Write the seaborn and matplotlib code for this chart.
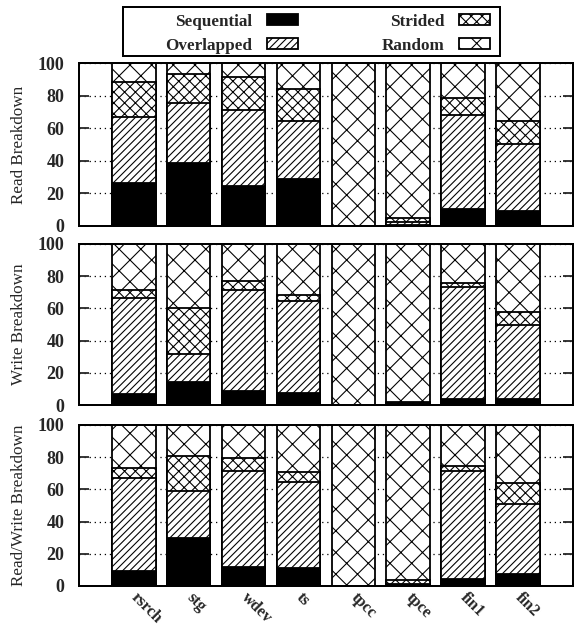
import numpy as np
import matplotlib
matplotlib.use('Agg')
import matplotlib.pyplot as plt
import seaborn as sns
from matplotlib.patches import Patch, Rectangle

sns.set_style('white')
plt.rcParams['font.family'] = ['Liberation Serif', 'DejaVu Serif']
plt.rcParams['hatch.linewidth'] = 0.6

# workloads and breakdowns (percent)
workloads = ['rsrch', 'stg', 'wdev', 'ts', 'tpcc', 'tpce', 'fin1', 'fin2']
categories = ['Sequential', 'Overlapped', 'Strided', 'Random']

read_seq = [26.6, 38.8, 24.5, 28.9, 0.0, 0.5, 10.2, 9.0]
read_ovl = [40.2, 36.7, 46.6, 35.8, 0.0, 1.5, 58.2, 41.4]
read_str = [22.0, 18.0, 20.7, 19.5, 0.0, 3.0, 10.0, 14.3]
read_rnd = [11.2, 6.5, 8.2, 15.8, 100.0, 95.0, 21.6, 35.3]

write_seq = [7.0, 14.6, 8.5, 7.2, 0.0, 0.5, 3.5, 3.9]
write_ovl = [59.6, 16.9, 62.6, 57.3, 0.0, 0.5, 70.0, 46.0]
write_str = [4.5, 28.5, 5.6, 3.5, 0.0, 1.0, 2.5, 8.0]
write_rnd = [28.9, 40.0, 23.3, 32.0, 100.0, 98.0, 24.0, 42.1]

rw_seq = [9.0, 30.0, 11.8, 11.1, 0.0, 0.5, 4.3, 7.4]
rw_ovl = [58.0, 29.2, 59.4, 53.5, 0.0, 1.0, 66.9, 43.6]
rw_str = [6.3, 21.5, 8.5, 6.2, 0.0, 2.5, 3.3, 13.2]
rw_rnd = [26.7, 19.3, 20.3, 29.2, 100.0, 96.0, 25.5, 35.8]

panels = [
    ('Read Breakdown', [read_seq, read_ovl, read_str, read_rnd]),
    ('Write Breakdown', [write_seq, write_ovl, write_str, write_rnd]),
    ('Read/Write Breakdown', [rw_seq, rw_ovl, rw_str, rw_rnd]),
]

styles = {
    'Sequential': dict(color='black', hatch=None),
    'Overlapped': dict(color='white', hatch='//////'),
    'Strided': dict(color='white', hatch='xxxx'),
    'Random': dict(color='white', hatch='xx'),
}

DPI = 130
W, H = 579, 627
fig = plt.figure(figsize=(W / DPI, H / DPI), dpi=DPI)

# axes boxes in figure fractions (left, bottom, width, height)
boxes = [
    (0.1364, 0.640, 0.8527, 0.259),
    (0.1364, 0.354, 0.8527, 0.257),
    (0.1364, 0.0654, 0.8527, 0.257),
]

for i, ((ylabel, series), box) in enumerate(zip(panels, boxes)):
    ax = fig.add_axes(box)
    cum = np.cumsum(np.array(series), axis=0)
    # draw tallest stack first, then overlay lower stacks
    for k in range(3, -1, -1):
        st = styles[categories[k]]
        sns.barplot(x=workloads, y=cum[k], ax=ax, color=st['color'],
                    saturation=1, hatch=st['hatch'], edgecolor='black',
                    linewidth=1.0, width=0.79, zorder=2)
    ax.set_xlim(-1, 8)
    ax.set_ylim(0, 100)
    ax.set_yticks([0, 20, 40, 60, 80, 100])
    ax.yaxis.grid(True, linestyle=(0, (1, 3)), linewidth=0.7, color='black')
    ax.xaxis.grid(False)
    ax.set_axisbelow(True)
    for sp in ax.spines.values():
        sp.set_linewidth(1.1)
        sp.set_color('black')
    ax.tick_params(axis='y', which='both', direction='in', length=5.5,
                   width=1.0, left=True, right=True, pad=8, labelsize=10)
    for lab in ax.get_yticklabels():
        lab.set_fontweight('bold')
    ax.set_ylabel(ylabel, fontsize=9.5)
    ax.yaxis.set_label_coords(-0.105, 0.5)
    ax.set_xlabel('')
    if i < 2:
        ax.set_xticklabels([])
        ax.tick_params(axis='x', length=0)
    else:
        ax.tick_params(axis='x', length=0, pad=5)
        ax.set_xticks(range(len(workloads)))
        ax.set_xticklabels(workloads, rotation=-45, ha='left', va='center',
                           rotation_mode='anchor', fontweight='bold',
                           fontsize=9)

# legend: labels on the left of their keys, box drawn separately
handles = [Patch(facecolor=styles[c]['color'], hatch=styles[c]['hatch'],
                 edgecolor='black', linewidth=1.0) for c in categories]
leg = fig.legend(handles, categories, loc='center',
                 bbox_to_anchor=(0.5656, 0.9463), ncol=2, markerfirst=False,
                 frameon=False, prop={'weight': 'bold', 'size': 9.5},
                 handlelength=1.8, handleheight=0.6, columnspacing=4.9,
                 labelspacing=0.45, borderpad=0.0, handletextpad=0.85,
                 borderaxespad=0)
for t in leg.get_texts():
    t.set_ha('right')
fig.add_artist(Rectangle((122.7 / W, 1 - 56 / H), (500 - 122.7) / W,
                         (56 - 7.3) / H, transform=fig.transFigure,
                         fill=False, edgecolor='black', linewidth=1.1))

fig.savefig('out.png', dpi=DPI, facecolor='white')
